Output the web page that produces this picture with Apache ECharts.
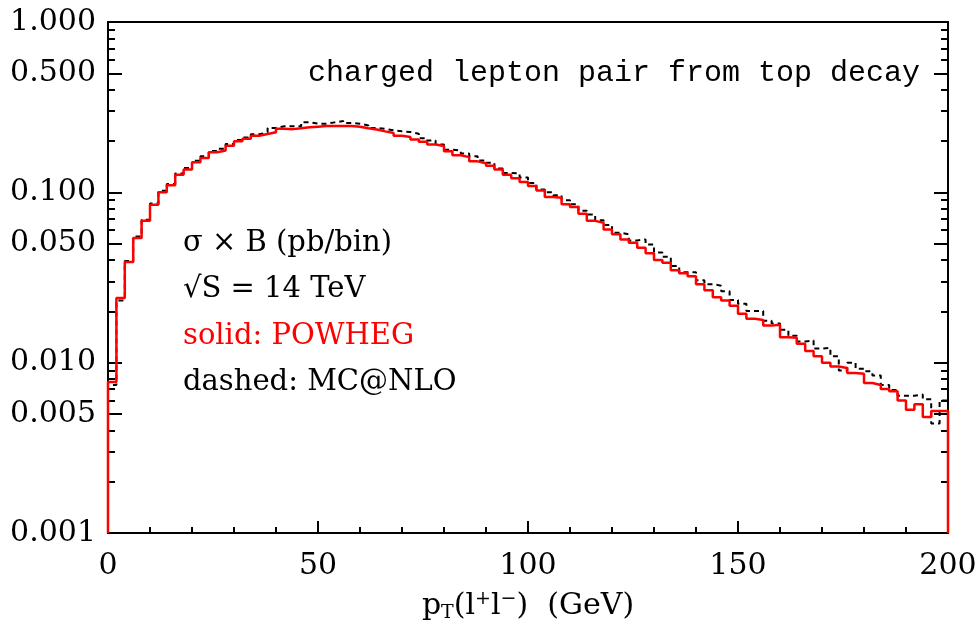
<!DOCTYPE html>
<html>
<head>
<meta charset="utf-8">
<script src="https://cdn.jsdelivr.net/npm/echarts@6/dist/echarts.min.js"></script>
<style>html,body{margin:0;padding:0;background:#fff}#c{width:980px;height:626px}</style>
</head>
<body>
<div id="c"></div>
<script>
// bin lower edges in GeV (bin width 2 GeV, 0..200)
var binWidth = 2;
var xMax = 200;
var yMin = 0.001;

// POWHEG (red solid), pb/bin, 100 bins
var powheg = [
0.0077,0.024,0.039,0.054,0.068,0.0845,0.100,0.110,0.127,0.136,
0.150,0.159,0.172,0.176,0.188,0.1995,0.206,0.215,0.220,0.225,
0.236,0.235,0.238,0.241,0.243,0.245,0.245,0.245,0.245,0.243,
0.238,0.234,0.228,0.223,0.215,0.211,0.204,0.198,0.191,0.187,
0.174,0.165,0.161,0.152,0.148,0.143,0.136,0.127,0.121,0.115,
0.109,0.1026,0.094,0.093,0.085,0.082,0.0749,0.068,0.0663,0.0606,
0.0567,0.0529,0.0506,0.0473,0.0439,0.0400,0.0386,0.0349,0.0335,0.0322,
0.0289,0.0266,0.0242,0.0232,0.0216,0.0194,0.0181,0.0178,0.0165,0.0167,
0.0141,0.0140,0.0129,0.0117,0.0109,0.0100,0.0095,0.0093,0.0087,0.0086,
0.0076,0.0074,0.0070,0.0068,0.0060,0.0053,0.0057,0.0048,0.0052,0.0052
];

// MC@NLO (black dashed), pb/bin, 100 bins
var mcatnlo = [
0.0074,0.0232,0.0395,0.055,0.069,0.086,0.102,0.112,0.129,0.139,
0.153,0.163,0.175,0.180,0.192,0.203,0.210,0.219,0.225,0.239,
0.244,0.244,0.244,0.2575,0.253,0.253,0.2575,0.262,0.255,0.253,
0.247,0.239,0.236,0.231,0.228,0.226,0.221,0.208,0.2015,0.191,
0.178,0.176,0.169,0.163,0.154,0.149,0.138,0.130,0.129,0.122,
0.1135,0.104,0.100,0.096,0.090,0.085,0.078,0.0742,0.0685,0.0644,
0.058,0.0567,0.0522,0.0529,0.0494,0.0443,0.0418,0.0370,0.0340,0.0340,
0.0305,0.0289,0.0283,0.0263,0.0233,0.0222,0.0201,0.0201,0.0176,0.0170,
0.0156,0.0144,0.0133,0.0135,0.0121,0.0122,0.0109,0.0090,0.0100,0.0092,
0.0089,0.0084,0.0074,0.0069,0.0064,0.0064,0.0065,0.0061,0.0044,0.0060
];

var yMajorTicks = [0.001, 0.005, 0.01, 0.05, 0.1, 0.5, 1];
var yMinorMantissas = [2, 3, 4, 6, 7, 8, 9];
var yDecades = [0.001, 0.01, 0.1];

var titleText = 'charged lepton pair from top decay';
var notes = ['σ × B (pb/bin)', '√S = 14 TeV', 'solid: POWHEG', 'dashed: MC@NLO'];

var yMinorTicks = [];
yDecades.forEach(function (d) { yMinorMantissas.forEach(function (m) { yMinorTicks.push(+(m * d).toPrecision(3)); }); });

function histPoints(vals) {
  var pts = [[0, yMin]];
  for (var i = 0; i < vals.length; i++) pts.push([i * binWidth, vals[i]]);
  pts.push([vals.length * binWidth, vals[vals.length - 1]]);
  pts.push([vals.length * binWidth, yMin]);
  return pts;
}

var FONT = 'DejaVu Serif';
var chart = echarts.init(document.getElementById('c'), null, {renderer: 'canvas'});

function yAx(pos, ticks, len, labels) {
  return {
    type: 'log', logBase: 10, min: 0.001, max: 1, position: pos,
    axisLine: {show: true, onZero: false, lineStyle: {color: '#000', width: 2}},
    axisTick: {show: true, inside: true, length: len, customValues: ticks, lineStyle: {color: '#000', width: 2}},
    axisLabel: labels ? {show: true, customValues: yMajorTicks, margin: 12, fontFamily: FONT, fontSize: 30, color: '#000',
      formatter: function (v) { return (+v).toFixed(3); }} : {show: false},
    splitLine: {show: false}, minorTick: {show: false}
  };
}
function xAx(pos, labels) {
  return {
    type: 'value', min: 0, max: xMax, interval: 50, position: pos,
    axisLine: {show: true, onZero: false, lineStyle: {color: '#000', width: 2}},
    axisTick: {show: labels, inside: true, length: 12, lineStyle: {color: '#000', width: 2}},
    minorTick: {show: labels, splitNumber: 5, length: 6, lineStyle: {color: '#000', width: 2}},
    axisLabel: labels ? {show: true, margin: 18, fontFamily: FONT, fontSize: 30, color: '#000'} : {show: false},
    splitLine: {show: false},
    name: labels ? '{p|p}{sub|T}{p|(l}{sup|+}{p|l}{sup|−}{p|)  (GeV)}' : '',
    nameLocation: 'middle', nameGap: 53,
    nameTextStyle: {
      rich: {
        p: {fontFamily: FONT, fontSize: 30, color: '#000', lineHeight: 40, verticalAlign: 'middle'},
        sub: {fontFamily: FONT, fontSize: 19, color: '#000', lineHeight: 40, padding: [14, 0, 0, 0]},
        sup: {fontFamily: FONT, fontSize: 19, color: '#000', lineHeight: 40, padding: [0, 0, 14, 0]}
      }
    }
  };
}

chart.setOption({
  animation: false,
  backgroundColor: '#fff',
  grid: {left: 108, right: 32, top: 22, bottom: 93, show: false, containLabel: false, outerBoundsMode: 'none'},
  xAxis: [xAx('bottom', true), xAx('top', false)],
  yAxis: [
    yAx('left', yMajorTicks, 14, true),
    yAx('left', yMinorTicks, 7, false),
    yAx('right', yMajorTicks, 14, false),
    yAx('right', yMinorTicks, 7, false)
  ],
  graphic: [
    {type: 'text', right: 60, top: 58, style: {text: titleText, font: '30px "Liberation Mono"', fill: '#000'}},
    {type: 'text', left: 183, top: 229, style: {text: notes[0], font: '29px "DejaVu Serif"', fill: '#000'}},
    {type: 'text', left: 183, top: 275, style: {text: notes[1], font: '29px "DejaVu Serif"', fill: '#000'}},
    {type: 'text', left: 183, top: 322, style: {text: notes[2], font: '29px "DejaVu Serif"', fill: '#ff0000'}},
    {type: 'text', left: 183, top: 368, style: {text: notes[3], font: '29px "DejaVu Serif"', fill: '#000'}}
  ],
  series: [
    {type: 'line', name: 'MC@NLO', step: 'end', xAxisIndex: 0, yAxisIndex: 0, data: histPoints(mcatnlo), symbol: 'none',
      lineStyle: {color: '#000', width: 2, type: [5, 4]}, z: 2},
    {type: 'line', name: 'POWHEG', step: 'end', xAxisIndex: 0, yAxisIndex: 0, data: histPoints(powheg), symbol: 'none',
      lineStyle: {color: '#ff0000', width: 2.5}, z: 3}
  ]
});
</script>
</body>
</html>
